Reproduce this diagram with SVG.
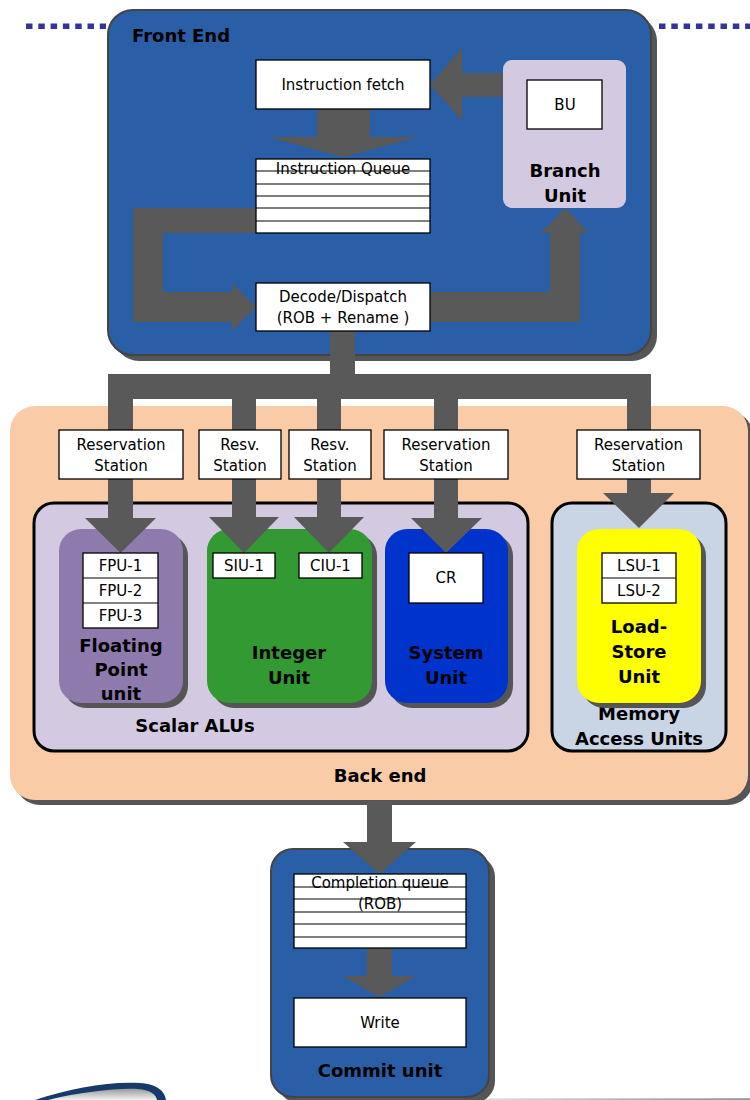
<svg xmlns="http://www.w3.org/2000/svg" width="750" height="1100" viewBox="0 0 750 1100">
<style>
.t{font-family:"DejaVu Sans","Liberation Sans",sans-serif;font-size:15px;fill:#000;text-anchor:middle}
.b{font-family:"DejaVu Sans","Liberation Sans",sans-serif;font-size:18px;font-weight:bold;fill:#000;text-anchor:middle}
.wb{fill:#fff;stroke:#000;stroke-width:1.3}
.ln{stroke:#000;stroke-width:1.2}
.sh{fill:#555}
.ar{fill:#595959}
.fe{fill:#2A5EA6;stroke:#444;stroke-width:2}
.dot{stroke:#333399;stroke-width:5.5;stroke-dasharray:6.5 5.8}
</style>
<defs>
<linearGradient id="gl" x1="0" x2="1" y1="0" y2="0"><stop offset="0" stop-color="#e0e0e0"/><stop offset="1" stop-color="#8c8ca0"/></linearGradient>
<linearGradient id="gs" x1="0" x2="0" y1="0" y2="1"><stop offset="0" stop-color="#9a9a9a"/><stop offset="1" stop-color="#f2f2f2"/></linearGradient>
</defs>
<rect width="750" height="1100" fill="#fff"/>
<g id="decor">
<line class="dot" x1="26" y1="26.3" x2="106" y2="26.3"/>
<line class="dot" x1="659" y1="26.3" x2="750" y2="26.3"/>
<path d="M35 1100 C70 1088 110 1081 140 1083 C158 1084 165 1092 166 1100 Z" fill="#173A6B"/>
<path d="M48 1100 C82 1092 115 1088 138 1089 C151 1090 156 1095 157 1100 Z" fill="url(#gs)"/>
<rect x="483" y="1098.3" width="267" height="1.7" fill="url(#gl)"/>
</g>
<g id="front-end">
<rect class="sh" x="114" y="16" width="543" height="345" rx="25"/>
<rect class="fe" x="108" y="10" width="543" height="345" rx="25"/>
<text class="b" x="132" y="42" style="text-anchor:start">Front End</text>
</g>
<g id="branch-unit">
<rect x="503" y="60" width="123" height="148" rx="9" fill="#D3C9E0"/>
<text class="b" x="565" y="177">Branch</text>
<text class="b" x="565" y="202">Unit</text>
</g>
<g id="back-end">
<rect class="sh" x="15" y="411" width="738" height="394" rx="25"/>
<rect x="10" y="406" width="738" height="394" rx="25" fill="#F9CBA7"/>
<text class="b" x="380" y="782">Back end</text>
</g>
<g id="scalar-alus">
<rect x="34" y="503" width="494" height="248" rx="20" fill="#D3C9E0" stroke="#000" stroke-width="3"/>
<text class="b" x="195" y="732">Scalar ALUs</text>
</g>
<g id="memory-access-units">
<rect x="552" y="503" width="174" height="248" rx="20" fill="#C9D5E5" stroke="#000" stroke-width="3"/>
<text class="b" x="639" y="720">Memory</text>
<text class="b" x="639" y="745">Access Units</text>
</g>
<g id="fp-unit">
<rect class="sh" x="64" y="534" width="124" height="174" rx="22"/>
<rect x="59" y="529" width="124" height="174" rx="22" fill="#8F7AAE"/>
<text class="b" x="121" y="652">Floating</text>
<text class="b" x="121" y="676">Point</text>
<text class="b" x="121" y="700">unit</text>
</g>
<g id="integer-unit">
<rect class="sh" x="212" y="534" width="165" height="174" rx="22"/>
<rect x="207" y="529" width="165" height="174" rx="22" fill="#339933"/>
<text class="b" x="289" y="659">Integer</text>
<text class="b" x="289" y="684">Unit</text>
</g>
<g id="system-unit">
<rect class="sh" x="390" y="534" width="123" height="174" rx="22"/>
<rect x="385" y="529" width="123" height="174" rx="22" fill="#0033CC"/>
<text class="b" x="446" y="659">System</text>
<text class="b" x="446" y="684">Unit</text>
</g>
<g id="load-store-unit">
<rect class="sh" x="582" y="534" width="124" height="174" rx="22"/>
<rect x="577" y="529" width="124" height="174" rx="22" fill="#FFFF00"/>
<text class="b" x="639" y="633">Load-</text>
<text class="b" x="639" y="658">Store</text>
<text class="b" x="639" y="683">Unit</text>
</g>
<g id="commit-unit">
<rect class="sh" x="277" y="855" width="218" height="248" rx="22"/>
<rect class="fe" x="271" y="849" width="218" height="248" rx="22"/>
<text class="b" x="380" y="1077">Commit unit</text>
</g>
<g id="connectors">
<polygon class="ar" points="503,73 462,73 462,48 430,84.5 462,121 462,97 503,97"/>
<polygon class="ar" points="317,109 370,109 370,137 418,137 343,157 268,137 317,137"/>
<polygon class="ar" points="256,208 133,208 133,322 232,322 232,331 256,307 232,283 232,292 163,292 163,233 256,233"/>
<polygon class="ar" points="430,292 550,292 550,233 541,233 565,208 589,233 580,233 580,322 430,322"/>
<rect class="ar" x="330" y="331" width="25" height="45"/>
<rect class="ar" x="108" y="374" width="543" height="25"/>
<polygon class="ar" points="108,374 133,374 133,518 156,518 120.5,553 85,518 108,518"/>
<polygon class="ar" points="232,374 256,374 256,517 279,517 244,553 209,517 232,517"/>
<polygon class="ar" points="317,374 341,374 341,517 364,517 329,553 294,517 317,517"/>
<polygon class="ar" points="434,374 458,374 458,518 482,518 446,553 411,518 434,518"/>
<polygon class="ar" points="627,374 651,374 651,493 674,493 639,528 603,493 627,493"/>
<polygon class="ar" points="367,801 392,801 392,842 416,842 379.5,874 343,842 367,842"/>
<polygon class="ar" points="367,948 392,948 392,976 416,976 379.5,997 343,976 367,976"/>
</g>
<g id="instruction-fetch">
<rect class="wb" x="256" y="60" width="174" height="49"/>
<text class="t" x="343" y="90">Instruction fetch</text>
</g>
<g id="bu">
<rect class="wb" x="527" y="80" width="75" height="49"/>
<text class="t" x="565" y="110">BU</text>
</g>
<g id="instruction-queue">
<rect class="wb" x="256" y="159" width="174" height="74"/>
<text class="t" x="343" y="174">Instruction Queue</text>
<line class="ln" x1="256" y1="171" x2="430" y2="171"/>
<line class="ln" x1="256" y1="184" x2="430" y2="184"/>
<line class="ln" x1="256" y1="196" x2="430" y2="196"/>
<line class="ln" x1="256" y1="208" x2="430" y2="208"/>
<line class="ln" x1="256" y1="221" x2="430" y2="221"/>
</g>
<g id="decode-dispatch">
<rect class="wb" x="256" y="283" width="174" height="48"/>
<text class="t" x="343" y="302">Decode/Dispatch</text>
<text class="t" x="343" y="323">(ROB + Rename )</text>
</g>
<g id="rs-fp">
<rect class="wb" x="59" y="430" width="124" height="49"/>
<text class="t" x="121" y="450">Reservation</text>
<text class="t" x="121" y="471">Station</text>
</g>
<g id="rs-siu">
<rect class="wb" x="199" y="430" width="82" height="49"/>
<text class="t" x="240" y="450">Resv.</text>
<text class="t" x="240" y="471">Station</text>
</g>
<g id="rs-ciu">
<rect class="wb" x="289" y="430" width="82" height="49"/>
<text class="t" x="330" y="450">Resv.</text>
<text class="t" x="330" y="471">Station</text>
</g>
<g id="rs-system">
<rect class="wb" x="384" y="430" width="124" height="49"/>
<text class="t" x="446" y="450">Reservation</text>
<text class="t" x="446" y="471">Station</text>
</g>
<g id="rs-lsu">
<rect class="wb" x="577" y="430" width="123" height="49"/>
<text class="t" x="638.5" y="450">Reservation</text>
<text class="t" x="638.5" y="471">Station</text>
</g>
<g id="fpu">
<rect class="wb" x="83" y="553" width="75" height="75"/>
<line class="ln" x1="83" y1="578" x2="158" y2="578"/>
<line class="ln" x1="83" y1="603" x2="158" y2="603"/>
<text class="t" x="120.5" y="571">FPU-1</text>
<text class="t" x="120.5" y="596">FPU-2</text>
<text class="t" x="120.5" y="621">FPU-3</text>
</g>
<g id="siu">
<rect class="wb" x="213" y="553" width="62" height="25"/>
<text class="t" x="244" y="571">SIU-1</text>
</g>
<g id="ciu">
<rect class="wb" x="299" y="553" width="63" height="25"/>
<text class="t" x="330.5" y="571">CIU-1</text>
</g>
<g id="cr">
<rect class="wb" x="409" y="553" width="74" height="50"/>
<text class="t" x="446" y="583">CR</text>
</g>
<g id="lsu">
<rect class="wb" x="602" y="553" width="74" height="50"/>
<line class="ln" x1="602" y1="578" x2="676" y2="578"/>
<text class="t" x="639" y="571">LSU-1</text>
<text class="t" x="639" y="596">LSU-2</text>
</g>
<g id="completion-queue">
<rect class="wb" x="294" y="874" width="172" height="74"/>
<text class="t" x="380" y="888">Completion queue</text>
<text class="t" x="380" y="909">(ROB)</text>
<line class="ln" x1="294" y1="887" x2="466" y2="887"/>
<line class="ln" x1="294" y1="899" x2="466" y2="899"/>
<line class="ln" x1="294" y1="912" x2="466" y2="912"/>
<line class="ln" x1="294" y1="924" x2="466" y2="924"/>
<line class="ln" x1="294" y1="937" x2="466" y2="937"/>
</g>
<g id="write">
<rect class="wb" x="294" y="998" width="172" height="49"/>
<text class="t" x="380" y="1028">Write</text>
</g>
</svg>
